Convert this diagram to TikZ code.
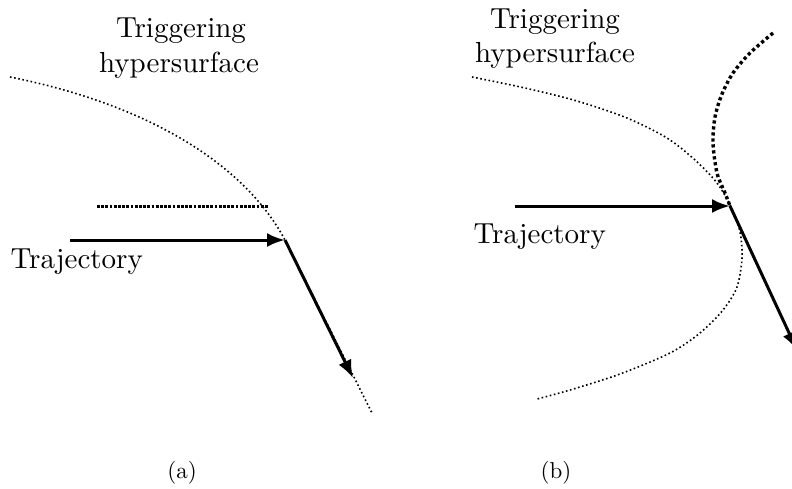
\documentclass[tikz,border=0pt]{standalone}
\usetikzlibrary{arrows.meta}
\begin{document}
\begin{tikzpicture}[x=1pt,y=-1pt,
  lbl/.style={font=\fontsize{10}{12}\selectfont, scale=2.9, inner sep=0pt, anchor=base},
  sublbl/.style={font=\fontsize{10}{12}\selectfont, scale=2.3, inner sep=0pt, anchor=base},
  thindot/.style={line width=1.6pt, dash pattern=on 1.6pt off 2.6pt},
  thickdot/.style={line width=3pt, dash pattern=on 2.8pt off 1.4pt},
  bigdot/.style={line width=3.4pt, dash pattern=on 3.2pt off 2.8pt},
  traj/.style={line width=3pt, -{Latex[length=18pt,width=14pt]}}]
\clip (0,0) rectangle (792,488);
\fill[white] (0,0) rectangle (792,488);
% ---------- panel (a)
\node[lbl] (ta1) at (181,37) {Triggering};
\node[lbl] (ta2) at (179,72) {hypersurface};
\node[lbl, anchor=base west] (tra) at (10,268) {Trajectory};
\node[sublbl] (capa) at (182,478) {(a)};
\coordinate (a0) at (10,77);
\coordinate (aK) at (285,240);
\coordinate (aE) at (372,413);
\coordinate (aS) at (70,240);
\coordinate (aT) at (353,378);
\coordinate (aD1) at (97,206);
\coordinate (aD2) at (269,206);
\draw[thindot] (a0) .. controls (150,105) and (245,165) .. (aK) -- (aE);
\draw[thickdot] (aD1) -- (aD2);
\draw[traj] (aS) -- (aK);
\draw[traj] (aK) -- (aT);
% ---------- panel (b)
\node[lbl] (tb1) at (555,28) {Triggering};
\node[lbl] (tb2) at (555,62) {hypersurface};
\node[lbl, anchor=base west] (trb) at (473,243) {Trajectory};
\node[sublbl] (capb) at (556,478) {(b)};
\coordinate (bS) at (515,206);
\coordinate (bK) at (730,206);
\coordinate (bT) at (797,350);
\draw[thindot] plot[smooth, tension=0.5] coordinates {(472,77) (525,88) (577,101) (627,118) (667,138) (695,160) (717,183) (731,207) (740,232) (742,258) (737,287) (723,310) (700,333) (670,353) (620,374) (570,390) (537,399)};
\draw[bigdot] plot[smooth, tension=0.5] coordinates {(773,33) (750,53) (733,73) (722,94) (715,117) (713,143) (717,173) (725,193) (730,206)};
\draw[traj] (bS) -- (bK);
\draw[traj] (bK) -- (bT);
\end{tikzpicture}
\end{document}
